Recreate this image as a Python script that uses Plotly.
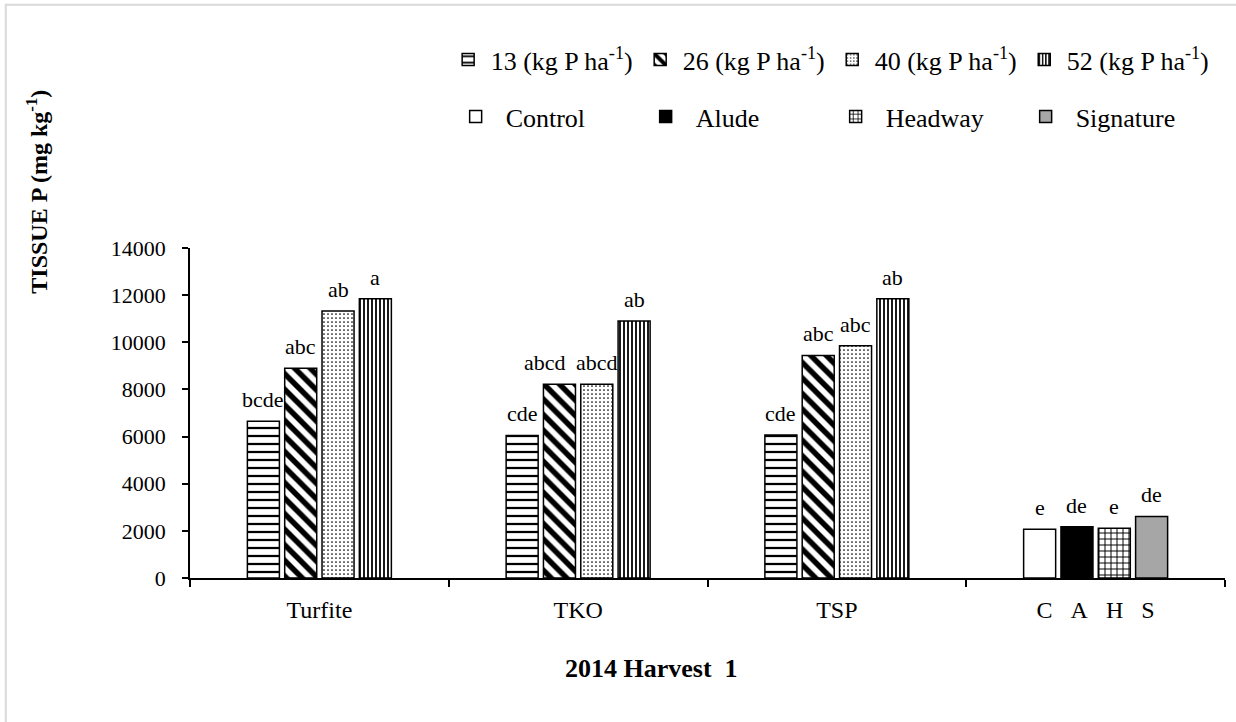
import plotly.graph_objects as go

# ---------------- data ----------------
categories = ["Turfite", "TKO", "TSP", "CAHS"]
tick_labels = ["Turfite", "TKO", "TSP",
               "C\u00a0\u00a0\u00a0A\u00a0\u00a0\u00a0H\u00a0\u00a0\u00a0S"]

rate_categories = ["Turfite", "TKO", "TSP"]
rate_names = ["13 (kg P ha<sup>-1</sup>)", "26 (kg P ha<sup>-1</sup>)",
              "40 (kg P ha<sup>-1</sup>)", "52 (kg P ha<sup>-1</sup>)"]
rate13 = [6650, 6050, 6070]
rate26 = [8900, 8220, 9440]
rate40 = [11330, 8220, 9850]
rate52 = [11850, 10900, 11850]
rate13_letters = ["bcde", "cde", "cde"]
rate26_letters = ["abc", "abcd", "abc"]
rate40_letters = ["ab", "abcd", "abc"]
rate52_letters = ["a", "ab", "ab"]

product_category = "CAHS"
product_names = ["Control", "Alude", "Headway", "Signature"]
product_values = [2070, 2170, 2110, 2610]
product_letters = ["e", "de", "e", "de"]

y_ticks = [0, 2000, 4000, 6000, 8000, 10000, 12000, 14000]

# ---------------- style ----------------
FONT = "Liberation Serif"
W, H = 1236, 722
ML, MR, MT, MB = 190, 11, 248, 144
BARGAP, GROUPGAP = 0.423, 0.142
plot_w = W - ML - MR
slot_px = plot_w / len(categories) * (1 - BARGAP) / 4
# small horizontal nudge (px) for a label that would collide with its neighbour
LABEL_NUDGE = {(1, "TKO"): -14}

rate_patterns = [dict(shape="-", size=8, solidity=0.28),
                 dict(shape="\\", size=11, solidity=0.5),
                 dict(shape=".", size=4, solidity=0.15),
                 dict(shape="|", size=4, solidity=0.45)]
product_styles = [dict(color="white", pattern=None),
                  dict(color="black", pattern=None),
                  dict(color="white", pattern=dict(shape="+", size=6, solidity=0.3)),
                  dict(color="#a6a6a6", pattern=None)]

fig = go.Figure()

rate_values = [rate13, rate26, rate40, rate52]
rate_letters = [rate13_letters, rate26_letters, rate40_letters, rate52_letters]
for i, (name, vals, pat) in enumerate(zip(rate_names, rate_values, rate_patterns)):
    fig.add_trace(go.Bar(
        x=rate_categories, y=vals, name=name, offsetgroup=str(i),
        marker=dict(color="white",
                    line=dict(color="black", width=1.5),
                    pattern=dict(fgcolor="black", bgcolor="white",
                                 fillmode="replace", **pat)),
        legend="legend", hoverinfo="x+y"))

for i, (name, val, st) in enumerate(zip(product_names, product_values, product_styles)):
    marker = dict(color=st["color"], line=dict(color="black", width=1.5))
    if st["pattern"]:
        marker["pattern"] = dict(fgcolor="black", bgcolor="white",
                                 fillmode="replace", **st["pattern"])
    fig.add_trace(go.Bar(
        x=[product_category], y=[val], name=name, offsetgroup=str(i),
        marker=marker, legend="legend2", hoverinfo="x+y"))

# letters above bars
annotations = []
for i, (vals, lets) in enumerate(zip(rate_values, rate_letters)):
    for c, v, t in zip(rate_categories, vals, lets):
        annotations.append(dict(x=c, y=v, text=t, showarrow=False,
                                xshift=(i - 1.5) * slot_px + LABEL_NUDGE.get((i, c), 0),
                                yshift=7, yanchor="bottom",
                                font=dict(family=FONT, size=22, color="black")))
for i, (v, t) in enumerate(zip(product_values, product_letters)):
    annotations.append(dict(x=product_category, y=v, text=t, showarrow=False,
                            xshift=(i - 1.5) * slot_px, yshift=7,
                            yanchor="bottom",
                            font=dict(family=FONT, size=22, color="black")))

# axis titles
annotations.append(dict(xref="paper", yref="paper", x=-0.148, y=1.17,
                        text="<b>TISSUE P (mg kg<sup>-1</sup>)</b>",
                        textangle=-90, showarrow=False,
                        xanchor="center", yanchor="middle",
                        font=dict(family=FONT, size=24, color="black")))
annotations.append(dict(xref="paper", yref="paper", x=0.446, y=-0.275,
                        text="<b>2014 Harvest  1</b>", showarrow=False,
                        xanchor="center", yanchor="middle",
                        font=dict(family=FONT, size=26, color="black")))

fig.update_layout(
    width=W, height=H,
    margin=dict(l=ML, r=MR, t=MT, b=MB, pad=0),
    paper_bgcolor="white", plot_bgcolor="white",
    barmode="group", bargap=BARGAP, bargroupgap=GROUPGAP,
    font=dict(family=FONT, color="black"),
    showlegend=True,
    legend=dict(orientation="h", x=0.247, y=1.571, xanchor="left", yanchor="middle",
                font=dict(family=FONT, size=26, color="black"), traceorder="normal",
                bgcolor="rgba(0,0,0,0)", itemwidth=35, itemclick=False),
    legend2=dict(orientation="h", x=0.247, y=1.398, xanchor="left", yanchor="middle",
                 font=dict(family=FONT, size=26, color="black"), traceorder="normal",
                 entrywidth=125, entrywidthmode="pixels",
                 bgcolor="rgba(0,0,0,0)", itemwidth=50, itemclick=False),
    xaxis=dict(categoryorder="array", categoryarray=categories,
               tickvals=categories, ticktext=tick_labels,
               showline=True, linecolor="black", linewidth=1.5,
               ticks="outside", tickson="boundaries", ticklen=7,
               tickcolor="black", tickwidth=1.5, showgrid=False,
               tickfont=dict(family=FONT, size=24), ticklabelstandoff=9),
    yaxis=dict(range=[0, 14000], tickvals=y_ticks, tickformat="d",
               showline=True, linecolor="black", linewidth=1.5,
               ticks="outside", ticklen=6, tickcolor="black", tickwidth=1.5,
               showgrid=False, zeroline=False,
               tickfont=dict(family=FONT, size=22), ticklabelstandoff=12),
    annotations=annotations,
    shapes=[dict(type="rect", xref="paper", yref="paper",
                 x0=-0.178, x1=1.05, y0=-0.8, y1=1.737,
                 line=dict(color="#d9d9d9", width=2), layer="below")],
)

fig.write_html("out.html",
               config={"displayModeBar": False},
               post_script="document.body.style.margin='0';"
                           "document.body.style.overflow='hidden';")
